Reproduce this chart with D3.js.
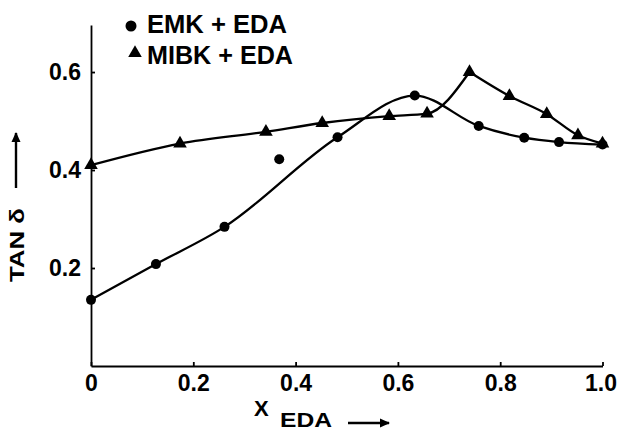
<!DOCTYPE html>
<html>
<head>
<meta charset="utf-8">
<script src="https://cdn.jsdelivr.net/npm/d3@7"></script>
<style>
  body { margin: 0; background: #fff; }
  text { font-family: "Liberation Sans", Arial, sans-serif; font-weight: bold; fill: #000; }
</style>
</head>
<body>
<div id="chart"></div>
<script>
// EMK + EDA (circles); the point at 0.368 sits off the fitted curve
const emkX = [0, 0.127, 0.261, 0.368, 0.482, 0.633, 0.758, 0.847, 0.915, 1.0];
const emkY = [0.135, 0.208, 0.284, 0.422, 0.467, 0.552, 0.490, 0.466, 0.457, 0.452];
const emkOnCurve = [true, true, true, false, true, true, true, true, true, true];

// MIBK + EDA (triangles)
const mibkX = [0, 0.174, 0.342, 0.452, 0.583, 0.657, 0.740, 0.818, 0.891, 0.952, 1.0];
const mibkY = [0.410, 0.454, 0.478, 0.496, 0.510, 0.515, 0.600, 0.551, 0.514, 0.471, 0.454];

const xTicks = [0, 0.2, 0.4, 0.6, 0.8, 1.0];
const yTicks = [0.2, 0.4, 0.6];
const legendLabels = ["EMK + EDA", "MIBK + EDA"];

const width = 618, height = 430;
const x = d3.scaleLinear().domain([0, 1]).range([91, 602.5]);
const y = d3.scaleLinear().domain([0, 0.696]).range([366, 25]);

const svg = d3.select("#chart").append("svg")
  .attr("width", width).attr("height", height);

svg.append("defs").append("marker")
  .attr("id", "arrow").attr("viewBox", "0 0 10 10")
  .attr("refX", 9).attr("refY", 5)
  .attr("markerWidth", 11).attr("markerHeight", 10)
  .attr("markerUnits", "userSpaceOnUse")
  .attr("orient", "auto")
  .append("path").attr("d", "M0,0.5 L10,5 L0,9.5 Z").attr("fill", "#000");

// axes
const xAxis = svg.append("g")
  .attr("transform", `translate(0,${y(0)})`)
  .call(d3.axisBottom(x).tickValues(xTicks).tickSizeInner(-4).tickSizeOuter(0).tickPadding(9)
    .tickFormat(d => d === 0 ? "0" : d3.format(".1f")(d)));
const yAxis = svg.append("g")
  .attr("transform", `translate(${x(0)},0)`)
  .call(d3.axisLeft(y).tickValues(yTicks).tickSizeInner(-4).tickSizeOuter(0).tickPadding(10)
    .tickFormat(d3.format(".1f")));
[xAxis, yAxis].forEach(g => {
  g.attr("font-size", 23).attr("font-family", null);
  g.select(".domain").attr("stroke", "#000").attr("stroke-width", 1.8);
  g.selectAll(".tick line").attr("stroke", "#000").attr("stroke-width", 1.8);
  g.selectAll(".tick text").attr("fill", "#000");
});
// keep the last x label inside the frame
xAxis.selectAll(".tick text").filter(d => d === 1).attr("dx", -2);

// curves
const emk = emkX.map((v, i) => ({ x: v, y: emkY[i], on: emkOnCurve[i] }));
const mibk = mibkX.map((v, i) => ({ x: v, y: mibkY[i] }));

const line = d3.line().x(d => x(d.x)).y(d => y(d.y)).curve(d3.curveMonotoneX);

svg.append("path")
  .attr("d", line(emk.filter(d => d.on)))
  .attr("fill", "none").attr("stroke", "#000").attr("stroke-width", 2.3);

// MIBK curve has a sharp peak: draw it in two pieces split at the maximum
const peak = d3.maxIndex(mibk, d => d.y);
[mibk.slice(0, peak + 1), mibk.slice(peak)].forEach(part => {
  svg.append("path")
    .attr("d", line(part))
    .attr("fill", "none").attr("stroke", "#000").attr("stroke-width", 2.3);
});

// markers
svg.selectAll("circle.emk").data(emk).enter().append("circle")
  .attr("class", "emk")
  .attr("cx", d => x(d.x)).attr("cy", d => y(d.y)).attr("r", 5)
  .attr("fill", "#000");

const tri = d3.symbol().type(d3.symbolTriangle).size(80);
svg.selectAll("path.mibk").data(mibk).enter().append("path")
  .attr("class", "mibk")
  .attr("transform", d => `translate(${x(d.x)},${y(d.y)})`)
  .attr("d", tri).attr("fill", "#000");

// legend
svg.append("circle").attr("cx", 131).attr("cy", 26).attr("r", 5.5).attr("fill", "#000");
svg.append("text").attr("x", 147).attr("y", 33).attr("font-size", 25)
  .attr("textLength", 140).attr("lengthAdjust", "spacingAndGlyphs").text(legendLabels[0]);
svg.append("path").attr("transform", "translate(135,53)").attr("d", tri).attr("fill", "#000");
svg.append("text").attr("x", 147).attr("y", 64).attr("font-size", 25)
  .attr("textLength", 146).attr("lengthAdjust", "spacingAndGlyphs").text(legendLabels[1]);

// y label
const yl = svg.append("g").attr("transform", "translate(0,245) rotate(-90)");
yl.append("text").attr("x", -37).attr("y", 24).attr("font-size", 20)
  .attr("textLength", 74).attr("lengthAdjust", "spacingAndGlyphs").text("TAN δ");
yl.append("line").attr("x1", 57).attr("x2", 112).attr("y1", 16).attr("y2", 16)
  .attr("stroke", "#000").attr("stroke-width", 2.4).attr("marker-end", "url(#arrow)");

// x label
svg.append("text").attr("x", 254).attr("y", 416).attr("font-size", 22).text("X");
svg.append("text").attr("x", 280).attr("y", 427).attr("font-size", 21)
  .attr("textLength", 52).attr("lengthAdjust", "spacingAndGlyphs").text("EDA");
svg.append("line").attr("x1", 348).attr("x2", 389).attr("y1", 423).attr("y2", 423)
  .attr("stroke", "#000").attr("stroke-width", 2.4).attr("marker-end", "url(#arrow)");
</script>
</body>
</html>
